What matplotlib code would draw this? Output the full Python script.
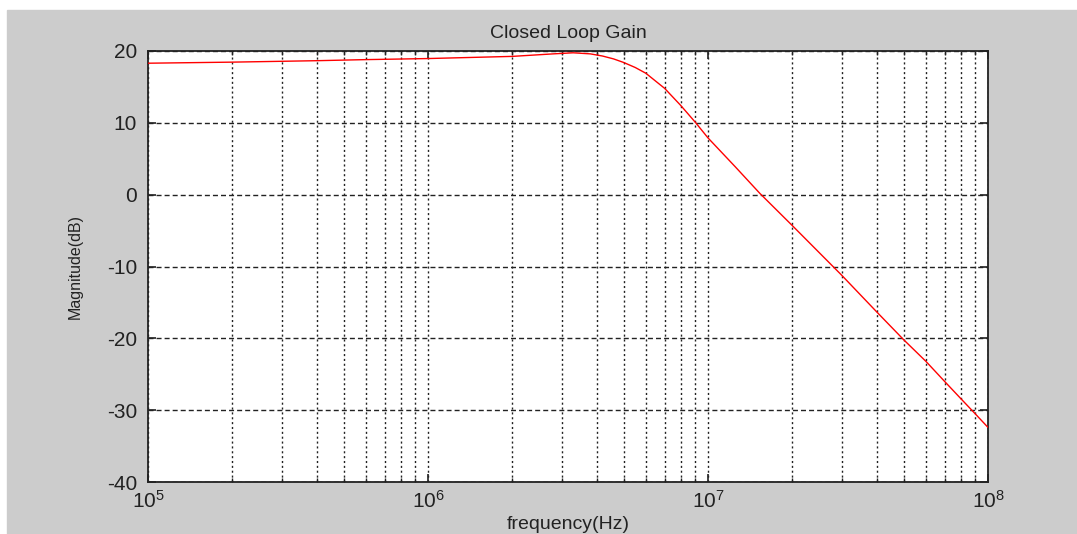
import matplotlib
matplotlib.use("Agg")
import matplotlib.pyplot as plt
from matplotlib.patches import Rectangle
from matplotlib.ticker import LogLocator, NullFormatter

# closed loop gain
freq_hz = [1e5, 2e5, 4e5, 6e5, 1e6, 2e6, 2.8e6, 3.3e6, 3.8e6, 4.2e6, 4.6e6,
           5e6, 5.5e6, 6e6, 7e6, 8e6, 9e6, 1e7, 1.25e7, 1.53e7, 2e7, 3e7, 4e7,
           5e7, 6e7, 7e7, 8e7, 9e7, 1e8]
gain_db = [18.3, 18.45, 18.65, 18.8, 18.95, 19.25, 19.6, 19.75, 19.6, 19.3, 18.9,
           18.4, 17.7, 16.9, 14.8, 12.4, 10.1, 7.9, 3.9, 0.2, -4.3, -11.2, -16.3,
           -20.2, -23.2, -26.0, -28.4, -30.5, -32.4]

y_ticks = [-40, -30, -20, -10, 0, 10, 20]

W, H = 1077, 534
plt.rcParams["font.family"] = ["Liberation Sans", "DejaVu Sans"]
plt.rcParams["axes.unicode_minus"] = False

fig = plt.figure(figsize=(W / 100, H / 100), dpi=100, facecolor="white")
# matlab grey figure area (white strip at top and left in the screenshot)
fig.add_artist(Rectangle((7 / W, 0), 1 - 7 / W, (H - 10) / H,
                         transform=fig.transFigure, color="#cccccc", zorder=-10))

ax = fig.add_axes([148 / W, 1 - 482 / H, (988 - 148) / W, (482 - 51) / H])
ax.set_facecolor("white")
ax.semilogx(freq_hz, gain_db, color="#ff0000", lw=1.0, zorder=3)

ax.set_xlim(1e5, 1e8)
ax.set_ylim(-40, 20)
ax.set_yticks(y_ticks)
ax.xaxis.set_major_locator(LogLocator(base=10, numticks=10))
ax.xaxis.set_minor_locator(LogLocator(base=10, subs=range(2, 10), numticks=20))
ax.xaxis.set_minor_formatter(NullFormatter())

ax.grid(True, axis="x", which="both", color="#222222", lw=1.0, linestyle=(0, (1.5, 2.0)))
ax.grid(True, axis="y", which="major", color="#222222", lw=1.0, linestyle=(0, (3.6, 2.2)))
ax.set_axisbelow(False)

ax.tick_params(which="both", direction="in", top=True, right=True,
               colors="#222222", labelcolor="#222222")
ax.tick_params(which="major", length=6, width=1.2, labelsize=15)
ax.tick_params(which="minor", length=3, width=1)
ax.tick_params(axis="x", pad=6)
ax.tick_params(axis="y", pad=8)
for s in ax.spines.values():
    s.set_linewidth(1.3)
    s.set_color("#222222")

ax.set_title("Closed Loop Gain", fontsize=14, color="#222222", pad=9)
ax.set_xlabel("frequency(Hz)", fontsize=14, color="#222222", labelpad=3)
ax.set_ylabel("Magnitude(dB)", fontsize=11.5, color="#222222", labelpad=17)

fig.savefig("out.png", dpi=100, facecolor=fig.get_facecolor())
